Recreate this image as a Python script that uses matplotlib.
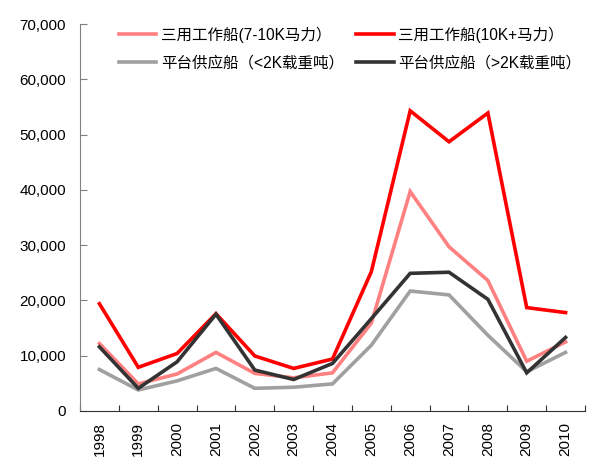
import matplotlib
matplotlib.use("Agg")
import matplotlib.pyplot as plt
from matplotlib.ticker import FuncFormatter, FixedLocator
import numpy as np

plt.rcParams['font.family'] = ['Liberation Sans', 'Noto Sans CJK SC', 'DejaVu Sans']

years = ['1998', '1999', '2000', '2001', '2002', '2003', '2004',
         '2005', '2006', '2007', '2008', '2009', '2010']

ahts_7_10k = [12200, 4900, 6700, 10600, 6800, 6000, 6900,
              15900, 39700, 29700, 23600, 9000, 12500]
ahts_10k_plus = [19400, 7900, 10400, 17600, 9950, 7700, 9400,
                 25200, 54300, 48700, 53900, 18700, 17800]
psv_lt_2k = [7500, 3800, 5450, 7700, 4100, 4300, 4900,
             11900, 21700, 21000, 13700, 7100, 10600]
psv_gt_2k = [11600, 4100, 8900, 17500, 7400, 5700, 8600,
             16700, 24900, 25100, 20200, 6900, 13300]

series = [
    ('三用工作船(7-10K马力）', ahts_7_10k, '#FF8080'),
    ('三用工作船(10K+马力）', ahts_10k_plus, '#FF0000'),
    ('平台供应船（<2K载重吨）', psv_lt_2k, '#A0A0A0'),
    ('平台供应船（>2K载重吨）', psv_gt_2k, '#333333'),
]

fig = plt.figure(figsize=(5.9, 4.59), dpi=100)
ax = fig.add_axes([0.1356, 0.1046, 0.8559, 0.8431])

x = np.arange(len(years))
handles = []
for label, vals, color in series:
    h, = ax.plot(x, vals, color=color, lw=2.6, label=label, solid_joinstyle='miter')
    handles.append(h)

ax.set_xlim(-0.5, len(years) - 0.5)
ax.set_ylim(0, 70000)
ax.set_yticks(np.arange(0, 70001, 10000))
ax.yaxis.set_major_formatter(FuncFormatter(lambda v, p: f'{int(v):,}'))

# ticks at category boundaries, labels at category centres
ax.xaxis.set_major_locator(FixedLocator(np.arange(-0.5, len(years), 1.0)))
ax.xaxis.set_major_formatter(FuncFormatter(lambda v, p: ''))
ax.xaxis.set_minor_locator(FixedLocator(x))
ax.set_xticklabels(years, minor=True, rotation=90)
ax.tick_params(axis='x', which='minor', length=0, pad=8, labelsize=11)
ax.tick_params(axis='x', which='major', direction='in', length=4, color='#333333')
ax.tick_params(axis='y', direction='in', length=5, labelsize=11, pad=10, color='#808080')

for s in ['top', 'right']:
    ax.spines[s].set_visible(False)
ax.spines['left'].set_color('#808080')
ax.spines['bottom'].set_color('#333333')

# row-major legend order: two entries per row
order = [0, 2, 1, 3]
ax.legend([handles[i] for i in order], [series[i][0] for i in order],
          ncol=2, loc='upper left', bbox_to_anchor=(0.065, 1.01), frameon=False,
          fontsize=11.2, handlelength=2.4, handletextpad=0.3, columnspacing=0.8,
          labelspacing=0.85, borderaxespad=0)

fig.savefig('out.png', dpi=100)
